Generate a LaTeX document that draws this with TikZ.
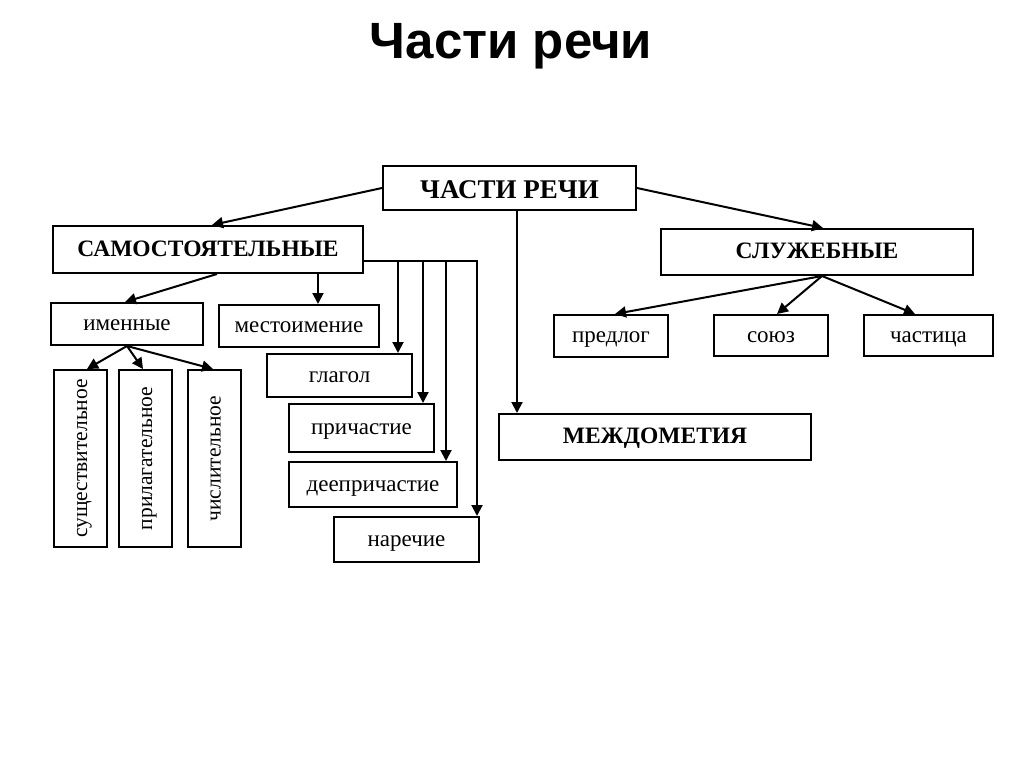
\documentclass[tikz,border=0pt]{standalone}
\usepackage{fontspec}
\setmainfont{Liberation Serif}
\newfontfamily\titlefont{Liberation Sans}
\usetikzlibrary{arrows.meta}

\begin{document}
\begin{tikzpicture}[x=1pt,y=-1pt,
  box/.style={draw, line width=2pt, inner sep=0pt, text height=16pt, text depth=3pt, font=\fontsize{23}{23}\selectfont},
  head/.style={box, font=\fontsize{23.5}{23.5}\selectfont\bfseries},
  vbox/.style={box, rotate=90, minimum width=177pt, minimum height=53pt, font=\fontsize{21.5}{21.5}\selectfont},
  arr/.style={line width=2pt, -{Triangle[length=11pt,width=11pt]}}]
\useasboundingbox[fill=white] (0,0) rectangle (1024,767);
\node [anchor=base, font=\titlefont\bfseries\fontsize{51}{51}\selectfont] (title) at (511,59) {Части речи};
% top level
\node [head, minimum width=253pt, minimum height=44pt, font=\fontsize{27}{27}\selectfont\bfseries, text height=22pt, text depth=0pt] (chr) at (509.5,188) {ЧАСТИ РЕЧИ};
\node [head, minimum width=310pt, minimum height=47pt] (sam) at (208,249.5) {САМОСТОЯТЕЛЬНЫЕ};
\node [head, minimum width=312pt, minimum height=46pt] (slu) at (817,252) {СЛУЖЕБНЫЕ};
\node [head, minimum width=312pt, minimum height=46pt] (mez) at (655,437) {МЕЖДОМЕТИЯ};
% independent parts
\node [box, minimum width=152pt, minimum height=42pt] (imen) at (127,324) {именные};
\node [box, minimum width=160pt, minimum height=42pt] (mest) at (299,326) {местоимение};
\node [box, minimum width=145pt, minimum height=43pt] (glag) at (339.5,375.5) {глагол};
\node [box, minimum width=145pt, minimum height=48pt] (prich) at (361.5,428) {причастие};
\node [box, minimum width=168pt, minimum height=45pt] (deepr) at (373,484.5) {деепричастие};
\node [box, minimum width=145pt, minimum height=45pt] (narech) at (406.5,539.5) {наречие};
\node [vbox] (sush) at (80.5,458.5) {существительное};
\node [vbox] (pril) at (145.5,458.5) {прилагательное};
\node [vbox] (chisl) at (214,458.5) {числительное};
% auxiliary parts
\node [box, minimum width=114pt, minimum height=42pt] (predl) at (611,336) {предлог};
\node [box, minimum width=114pt, minimum height=41pt] (soyuz) at (771,335.5) {союз};
\node [box, minimum width=129pt, minimum height=41pt] (chast) at (928.5,335.5) {частица};
% connectors
\draw [arr] (chr.west) -- (212,0 |- sam.north);
\draw [arr] (chr.east) -- (823,0 |- slu.north);
\draw [arr] (517,0 |- chr.south) -- (517,0 |- mez.north);
\draw [arr] (217,0 |- sam.south) -- (125,0 |- imen.north);
\draw [arr] (318,0 |- sam.south) -- (318,0 |- mest.north);
\draw [arr] (sam.east |- 0,261) -| (477,0 |- narech.north);
\foreach \x/\n in {398/glag, 423/prich, 446/deepr}
  \draw [arr] (\x,261) -- (\x,0 |- \n.north);
\draw [arr] (imen.south) -- (87,0 |- sush.east);
\draw [arr] (imen.south) -- (143,0 |- pril.east);
\draw [arr] (imen.south) -- (213,0 |- chisl.east);
\draw [arr] (822,0 |- slu.south) -- (615,0 |- predl.north);
\draw [arr] (822,0 |- slu.south) -- (777,0 |- soyuz.north);
\draw [arr] (822,0 |- slu.south) -- (915,0 |- chast.north);
\end{tikzpicture}
\end{document}
